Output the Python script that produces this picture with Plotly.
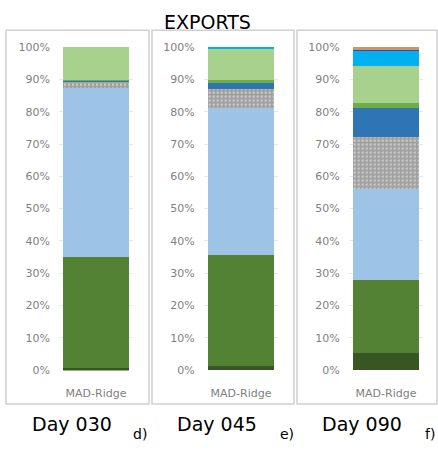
import plotly.graph_objects as go

# Export composition (% of total) at the MAD-Ridge site for three sampling days
days = ["Day 030", "Day 045", "Day 090"]
panel_tags = ["d)", "e)", "f)"]
site = ["MAD-Ridge"]
tick_values = list(range(0, 101, 10))
tick_labels = [f"{v}%" for v in tick_values]

series_names = [
    "Group 1", "Group 2", "Group 3", "Group 4", "Group 5",
    "Group 6", "Group 7", "Group 8", "Group 9", "Group 10",
]
series_colors = [
    "#375623", "#548235", "#9dc3e6", "#a0a0a0", "#2e75b6",
    "#70ad47", "#a9d18e", "#00b0f0", "#7030a0", "#c59a62",
]

# One list per day, bottom segment first
day030 = [0.5, 34.5, 52.4, 2.0, 0.3, 0.2, 10.1, 0.0, 0.0, 0.0]
day045 = [1.3, 34.3, 45.6, 5.9, 2.2, 0.4, 10.1, 0.2, 0.0, 0.0]
day090 = [5.4, 22.4, 28.2, 16.2, 9.1, 1.5, 11.3, 4.6, 0.8, 0.5]
day_values = [day030, day045, day090]

W, H = 438, 455
FONT = "DejaVu Sans"

# panel frames in pixels: (left, right)
frames = [(6, 149), (152, 294), (297, 437)]
frame_top, frame_bottom = 26, 409
# plot area x extents in pixels
plot_x = [(59, 133), (203.7, 278.3), (348.7, 423.3)]
y_dom = [1 - 374.66 / H, 1 - 42.64 / H]

fig = go.Figure()

for p, vals in enumerate(day_values):
    ax = "" if p == 0 else str(p + 1)
    for i, (name, col) in enumerate(zip(series_names, series_colors)):
        marker = dict(color=col, line=dict(width=0))
        if i == 3:
            marker["pattern"] = dict(
                shape=".", fgcolor="white", bgcolor=col,
                size=4, solidity=0.25, fillmode="overlay",
            )
        fig.add_trace(go.Bar(
            x=site, y=[vals[i]], name=name, marker=marker,
            xaxis="x" + ax, yaxis="y" + ax, showlegend=False,
        ))

    x0, x1 = plot_x[p]
    fig.layout["xaxis" + ax] = dict(
        domain=[x0 / W, x1 / W], anchor="y" + ax,
        showgrid=False, showline=False, zeroline=False,
        tickfont=dict(family=FONT, size=11, color="#7f7f7f"),
        ticks="", ticklabelstandoff=14,
    )
    fig.layout["yaxis" + ax] = dict(
        domain=y_dom, anchor="x" + ax, range=[-0.2, 100.2],
        tickvals=tick_values, ticktext=tick_labels,
        showgrid=True, gridcolor="#e6e6e6", gridwidth=1,
        zeroline=False, showline=False,
        tickfont=dict(family=FONT, size=11, color="#7f7f7f"),
        ticks="", ticklabelstandoff=8,
    )

shapes = []
for (l, r) in frames:
    shapes.append(dict(
        type="rect", xref="paper", yref="paper",
        x0=l / W, x1=r / W, y0=1 - frame_bottom / H, y1=1 - frame_top / H,
        line=dict(color="#d0d0d0", width=1.5), fillcolor="rgba(0,0,0,0)",
        layer="below",
    ))

annotations = [dict(
    text="EXPORTS", xref="paper", yref="paper",
    x=207.5 / W, y=1 - 17 / H, xanchor="center", yanchor="middle",
    showarrow=False, font=dict(family=FONT, size=19, color="black"),
)]
day_centers = [72, 217, 362]
tag_centers = [140, 287, 430]
for d, t, dc, tc in zip(days, panel_tags, day_centers, tag_centers):
    annotations.append(dict(
        text=d, xref="paper", yref="paper",
        x=dc / W, y=1 - 429 / H, xanchor="center", yanchor="middle",
        showarrow=False, font=dict(family=FONT, size=19, color="black"),
    ))
    annotations.append(dict(
        text=t, xref="paper", yref="paper",
        x=tc / W, y=1 - 440 / H, xanchor="center", yanchor="middle",
        showarrow=False, font=dict(family=FONT, size=14, color="black"),
    ))

fig.update_layout(
    width=W, height=H, barmode="stack", bargap=0.12,
    margin=dict(l=0, r=0, t=0, b=0),
    paper_bgcolor="white", plot_bgcolor="white",
    shapes=shapes, annotations=annotations,
    font=dict(family=FONT),
)

fig.write_html("out.html")
